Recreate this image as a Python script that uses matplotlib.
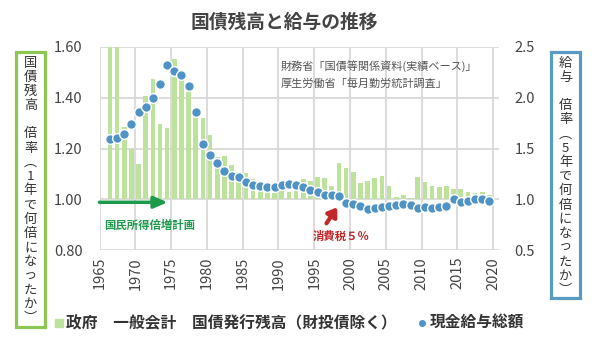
import matplotlib
matplotlib.use("Agg")
import matplotlib.pyplot as plt
from matplotlib.patches import Rectangle
from matplotlib.ticker import FormatStrFormatter
import numpy as np

plt.rcParams['font.family'] = ['Noto Sans CJK JP', 'DejaVu Sans']

# data (years 1966-2019)
years = np.arange(1966, 2020)
bond_ratio = [1.90, 1.90, 1.286, 1.200, 1.139, 1.405, 1.473, 1.297, 1.279, 1.552,
              1.490, 1.424, 1.326, 1.320, 1.254, 1.166, 1.171, 1.135, 1.108, 1.103,
              1.079, 1.060, 1.050, 1.024, 1.033, 1.030, 1.040, 1.079, 1.071, 1.087,
              1.083, 1.052, 1.144, 1.122, 1.106, 1.066, 1.072, 1.083, 1.091, 1.052,
              1.008, 1.017, 1.006, 1.087, 1.069, 1.052, 1.050, 1.054, 1.041, 1.041,
              1.029, 1.024, 1.030, 1.017]
wage_ratio = [1.598, 1.600, 1.641, 1.743, 1.861, 1.910, 1.996, 2.137, 2.324, 2.259,
              2.226, 2.111, 1.858, 1.548, 1.437, 1.355, 1.276, 1.230, 1.217, 1.171,
              1.141, 1.131, 1.121, 1.121, 1.138, 1.148, 1.138, 1.124, 1.092, 1.072,
              1.042, 1.042, 1.030, 0.966, 0.951, 0.934, 0.901, 0.917, 0.927, 0.931,
              0.941, 0.951, 0.947, 0.917, 0.924, 0.917, 0.924, 0.931, 1.006, 0.976,
              0.983, 1.000, 1.003, 0.983]
x_ticks = np.arange(1965, 2021, 5)
left_ticks = [0.8, 1.0, 1.2, 1.4, 1.6]
right_ticks = [0.5, 1.0, 1.5, 2.0, 2.5]

BAR_GREEN = "#bde29b"
DOT_BLUE = "#4f93c6"
W, H = 598, 345


def px(x, y):
    """pixel position (from top-left) -> figure fraction"""
    return x / W, 1 - y / H


fig = plt.figure(figsize=(W / 100, H / 100), dpi=100)
fig.patch.set_facecolor("white")
ax = fig.add_axes([99.5 / W, 1 - 250 / H, 399.5 / W, 203 / H])

xpos = years + 0.45
heights = np.array(bond_ratio) - 1.0
ax.bar(xpos, heights, bottom=1.0, width=0.65, color=BAR_GREEN, zorder=2)
ax.set_xlim(1965, 2020.8)
ax.set_ylim(0.8, 1.6)
ax.set_xticks(x_ticks)
ax.set_xticklabels([str(y) for y in x_ticks], rotation=90)
ax.set_yticks(left_ticks)
ax.yaxis.set_major_formatter(FormatStrFormatter("%.2f"))
ax.set_axisbelow(True)
ax.grid(True, color="#d9d9d9", lw=1.3)
for s in ax.spines.values():
    s.set_visible(False)
ax.tick_params(axis="y", length=0, pad=12, labelsize=10.5, colors="#444444")
ax.tick_params(axis="x", length=0, pad=5, labelsize=10.5, colors="#444444")

ax2 = ax.twinx()
ax2.plot(xpos, wage_ratio, "o", ms=7, color=DOT_BLUE, mec="white", mew=1.0, zorder=5)
ax2.set_ylim(0.5, 2.5)
ax2.set_yticks(right_ticks)
ax2.yaxis.set_major_formatter(FormatStrFormatter("%.1f"))
for s in ax2.spines.values():
    s.set_visible(False)
ax2.tick_params(axis="y", length=0, pad=11, labelsize=10.5, colors="#444444")

# annotations
ax.annotate("", xy=(1974.5, 0.988), xytext=(1965, 0.988),
            arrowprops=dict(arrowstyle="-|>,head_width=0.35,head_length=0.8",
                            color="#1e9a4c", lw=2.5, shrinkA=0, shrinkB=0), zorder=6)
ax.text(1972.0, 0.895, "国民所得倍増計画", color="#1e9a4c", fontsize=8.2,
        fontweight="bold", ha="center", va="center")
ax.annotate("", xy=(1998.2, 0.968), xytext=(1996.7, 0.905),
            arrowprops=dict(arrowstyle="-|>,head_width=0.35,head_length=0.5",
                            color="#c0282a", lw=3, shrinkA=0, shrinkB=0), zorder=6)
ax.text(1998.8, 0.855, "消費税５％", color="#c0282a", fontsize=8.2,
        fontweight="bold", ha="center", va="center")
ax.text(*px(281, 66), "財務省「国債等関係資料(実績ベース)」", transform=fig.transFigure,
        fontsize=8, color="#555555", va="center")
ax.text(*px(281, 84), "厚生労働省「毎月勤労統計調査」", transform=fig.transFigure,
        fontsize=8, color="#555555", va="center")

# title
fig.text(*px(284, 22), "国債残高と給与の推移", fontsize=13.5, fontweight="bold",
         color="#444444", ha="center", va="center")


def vertical_box(x0, y0, x1, y1, text, color):
    fig.patches.append(Rectangle(px(x0, y1), (x1 - x0) / W, (y1 - y0) / H,
                                 transform=fig.transFigure, fill=False,
                                 edgecolor=color, lw=2.3))
    step = 14.2
    for i, ch in enumerate(text):
        fig.text(*px((x0 + x1) / 2, y0 + 11 + i * step), ch, fontsize=9.5,
                 color="#333333", ha="center", va="center")


vertical_box(16, 52, 45, 327, "国債残高　倍率︵1年で何倍になったか︶", "#8cc653")
vertical_box(551, 52, 580, 298, "給与　倍率︵5年で何倍になったか︶", "#5a9bc6")

# legend
fig.patches.append(Rectangle(px(55, 327), 8 / W, 8 / H, transform=fig.transFigure,
                             color=BAR_GREEN))
fig.text(*px(66, 323), "政府　一般会計　国債発行残高（財投債除く）", fontsize=11.3,
         fontweight="bold", color="#333333", va="center")
fig.lines.append(plt.Line2D([422 / W], [1 - 323 / H], marker="o", ms=4,
                            color=DOT_BLUE, transform=fig.transFigure))
fig.text(*px(430, 323), "現金給与総額", fontsize=11.3, fontweight="bold",
         color="#333333", va="center")

fig.savefig("out.png", dpi=100)
